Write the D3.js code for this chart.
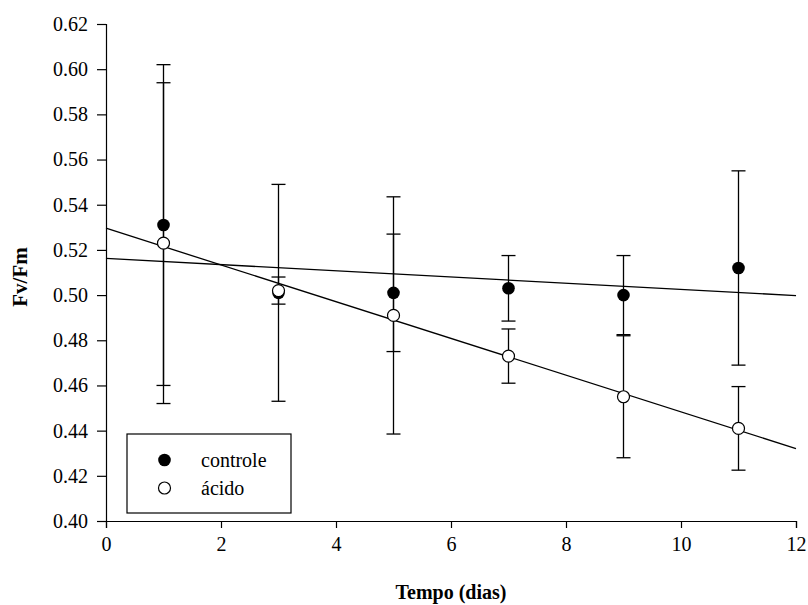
<!DOCTYPE html>
<html>
<head>
<meta charset="utf-8">
<script src="https://cdn.jsdelivr.net/npm/d3@7"></script>
<style>
  body { margin: 0; background: #fff; }
</style>
</head>
<body>
<div id="chart"></div>
<script>
// days of measurement
const dias = [1, 3, 5, 7, 9, 11];

// Fv/Fm means and error (half-width)
const controle = [0.531, 0.501, 0.501, 0.503, 0.500, 0.512];
const controleErr = [0.071, 0.048, 0.026, 0.0145, 0.0175, 0.043];
const acido = [0.523, 0.502, 0.491, 0.473, 0.455, 0.441];
const acidoErr = [0.071, 0.006, 0.0525, 0.012, 0.027, 0.0185];

const xTicks = [0, 2, 4, 6, 8, 10, 12];
const yTicks = [0.40, 0.42, 0.44, 0.46, 0.48, 0.50, 0.52, 0.54, 0.56, 0.58, 0.60, 0.62];

const FONT = "'Liberation Serif', 'Times New Roman', Times, 'DejaVu Serif', serif";

const width = 808, height = 605;
const margin = { left: 106, right: 12, top: 24, bottom: 84 };

const svg = d3.select("#chart").append("svg")
    .attr("width", width)
    .attr("height", height)
    .attr("font-family", FONT);

const x = d3.scaleLinear().domain([0, 12]).range([margin.left, width - margin.right]);
const y = d3.scaleLinear().domain([0.40, 0.62]).range([height - margin.bottom, margin.top]);

// least squares line
function fit(xs, ys) {
    const mx = d3.mean(xs), my = d3.mean(ys);
    let sxy = 0, sxx = 0;
    xs.forEach((v, i) => { sxy += (v - mx) * (ys[i] - my); sxx += (v - mx) * (v - mx); });
    const b = sxy / sxx;
    return { a: my - b * mx, b: b };
}

// axes
const xAxis = svg.append("g")
    .attr("transform", `translate(0,${y(0.40)})`)
    .call(d3.axisBottom(x).tickValues(xTicks).tickSize(7).tickPadding(9).tickFormat(d3.format("d")));
const yAxis = svg.append("g")
    .attr("transform", `translate(${x(0)},0)`)
    .call(d3.axisLeft(y).tickValues(yTicks).tickSize(9).tickPadding(9).tickFormat(d3.format(".2f")));

[xAxis, yAxis].forEach(g => {
    g.attr("font-family", FONT).attr("font-size", 20);
    g.select(".domain").attr("stroke", "#000").attr("stroke-width", 1.2);
    g.selectAll(".tick line").attr("stroke", "#000").attr("stroke-width", 1.2);
    g.selectAll(".tick text").attr("fill", "#000");
});

// regression lines
[[dias, controle], [dias, acido]].forEach(([xs, ys]) => {
    const f = fit(xs, ys);
    svg.append("line")
        .attr("x1", x(0)).attr("y1", y(f.a))
        .attr("x2", x(12)).attr("y2", y(f.a + f.b * 12))
        .attr("stroke", "#000").attr("stroke-width", 1.3);
});

// error bars
function errorBars(vals, errs) {
    const g = svg.append("g").attr("stroke", "#000").attr("stroke-width", 1.3);
    dias.forEach((d, i) => {
        const cx = x(d), hi = y(vals[i] + errs[i]), lo = y(vals[i] - errs[i]);
        g.append("line").attr("x1", cx).attr("x2", cx).attr("y1", hi).attr("y2", lo);
        g.append("line").attr("x1", cx - 7).attr("x2", cx + 7).attr("y1", hi).attr("y2", hi);
        g.append("line").attr("x1", cx - 7).attr("x2", cx + 7).attr("y1", lo).attr("y2", lo);
    });
}
errorBars(controle, controleErr);
errorBars(acido, acidoErr);

// points
svg.append("g").selectAll("circle")
    .data(dias.map((d, i) => [d, controle[i]]))
    .enter().append("circle")
    .attr("cx", d => x(d[0])).attr("cy", d => y(d[1]))
    .attr("r", 6.3).attr("fill", "#000");

svg.append("g").selectAll("circle")
    .data(dias.map((d, i) => [d, acido[i]]))
    .enter().append("circle")
    .attr("cx", d => x(d[0])).attr("cy", d => y(d[1]))
    .attr("r", 6).attr("fill", "#fff").attr("stroke", "#000").attr("stroke-width", 1.2);

// legend
const legend = svg.append("g").attr("font-size", 20);
legend.append("rect")
    .attr("x", 127).attr("y", 434).attr("width", 164).attr("height", 79)
    .attr("fill", "#fff").attr("stroke", "#000").attr("stroke-width", 1.2);
legend.append("circle").attr("cx", 164.5).attr("cy", 460).attr("r", 6.3).attr("fill", "#000");
legend.append("circle").attr("cx", 164.5).attr("cy", 488).attr("r", 6)
    .attr("fill", "#fff").attr("stroke", "#000").attr("stroke-width", 1.2);
legend.append("text").attr("x", 201).attr("y", 467).text("controle");
legend.append("text").attr("x", 201).attr("y", 495).text("ácido");

// axis titles
svg.append("text")
    .attr("x", (x(0) + x(12)) / 2).attr("y", 599)
    .attr("text-anchor", "middle")
    .attr("font-size", 20).attr("font-weight", "bold")
    .text("Tempo (dias)");

svg.append("text")
    .attr("transform", "translate(27,277) rotate(-90)")
    .attr("text-anchor", "middle")
    .attr("font-size", 21).attr("font-weight", "bold")
    .text("Fv/Fm");
</script>
</body>
</html>
